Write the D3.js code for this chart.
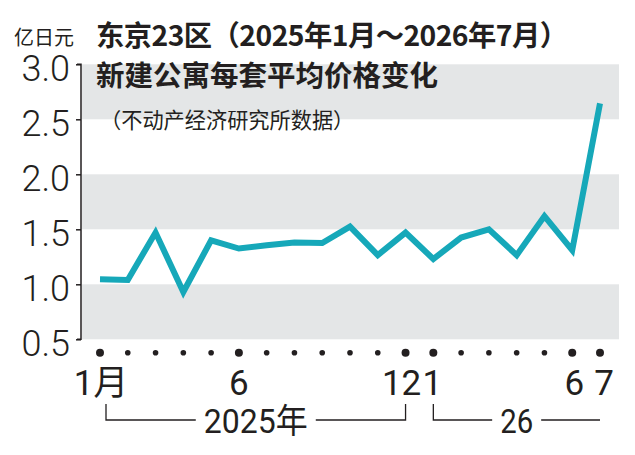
<!DOCTYPE html>
<html>
<head>
<meta charset="utf-8">
<script src="https://cdn.jsdelivr.net/npm/d3@7"></script>
<style>
  html, body { margin: 0; padding: 0; background: #fff; }
  svg { display: block; }
  .num { font-family: Roboto, 'Liberation Sans', sans-serif; font-weight: 300; fill: #231f20; }
  .cjk { font-family: 'Noto Sans CJK SC', 'Noto Sans', sans-serif; fill: #231f20; }
</style>
</head>
<body>
<div id="graph"></div>
<script>
// monthly average price, 100 million yen, Jan 2025 .. Jul 2026
const MONTHS = [1, 2, 3, 4, 5, 6, 7, 8, 9, 10, 11, 12, 1, 2, 3, 4, 5, 6, 7]
const PRICES = [1.045, 1.04, 1.47, 0.93, 1.40, 1.325, 1.355, 1.38, 1.375, 1.525,
                1.265, 1.47, 1.23, 1.425, 1.50, 1.265, 1.62, 1.31, 2.645]
const Y_TICKS = [0.5, 1.0, 1.5, 2.0, 2.5, 3.0]
const MONTH_LABELS = ['1月', '6', '12', '1', '6', '7']
const MONTH_LABEL_INDEX = [0, 5, 11, 12, 17, 18]
const YEAR_LABELS = ['2025年', '26']
const YEAR_SPANS = [[0, 11], [12, 18]]

const TITLE = '东京23区（2025年1月～2026年7月）',
      SUBTITLE = '新建公寓每套平均价格变化',
      SOURCE = '（不动产经济研究所数据）',
      UNIT = '亿日元'

const SIZE = Object.freeze({ WIDTH: 635, HEIGHT: 455 }),
      COLORS = Object.freeze({ LINE: '#16a8b9', BAND: '#e4e6e7', INK: '#231f20' })

const svg = d3.select('#graph')
  .append('svg')
  .attr('width', SIZE.WIDTH)
  .attr('height', SIZE.HEIGHT)

const xScale = d3.scaleLinear()
  .domain([0, MONTHS.length - 1])
  .range([100, 600])

const yScale = d3.scaleLinear()
  .domain([0.5, 3.0])
  .range([339.3, 64.3])

// alternating grey bands, every other half unit
const bands = Y_TICKS.slice(0, -1).filter((d, i) => i % 2 === 0)
svg.append('g')
  .selectAll('rect')
  .data(bands)
  .enter()
  .append('rect')
  .attr('x', 82)
  .attr('width', 619 - 82)
  .attr('y', d => yScale(d + 0.5))
  .attr('height', d => yScale(d) - yScale(d + 0.5))
  .attr('fill', COLORS.BAND)

// y axis
const yAxis = d3.axisLeft(yScale)
  .tickValues(Y_TICKS)
  .tickFormat(d3.format('.1f'))
  .tickSize(5)
  .tickPadding(6)

const yAxisG = svg.append('g')
  .attr('transform', 'translate(81,0)')
  .call(yAxis)
yAxisG.select('.domain')
  .attr('d', `M-4,${yScale(3.0)}H0V${yScale(0.5)}H-4`)
  .attr('stroke', COLORS.INK)
  .attr('stroke-width', 1.5)
yAxisG.selectAll('.tick line')
  .attr('stroke', COLORS.INK)
  .attr('stroke-width', 1.5)
yAxisG.selectAll('.tick text')
  .attr('class', 'num')
  .attr('dy', '0.62em')
  .attr('y', -6)
  .style('font-size', '36px')
  .attr('fill', COLORS.INK)

// titles
svg.append('text')
  .attr('class', 'cjk')
  .attr('x', 14)
  .attr('y', 45)
  .style('font-size', '20px')
  .text(UNIT)

svg.append('text')
  .attr('class', 'cjk')
  .attr('x', 96)
  .attr('y', 46)
  .style('font-size', '28.3px')
  .style('font-weight', 700)
  .attr('textLength', 472)
  .attr('lengthAdjust', 'spacing')
  .text(TITLE)

svg.append('text')
  .attr('class', 'cjk')
  .attr('x', 96)
  .attr('y', 86)
  .style('font-size', '28.5px')
  .style('font-weight', 700)
  .text(SUBTITLE)

svg.append('text')
  .attr('class', 'cjk')
  .attr('x', 100)
  .attr('y', 128)
  .style('font-size', '21.2px')
  .text(SOURCE)

// price line
const line = d3.line()
  .x((d, i) => xScale(i))
  .y(d => yScale(d))

svg.append('path')
  .datum(PRICES)
  .attr('d', line)
  .attr('fill', 'none')
  .attr('stroke', COLORS.LINE)
  .attr('stroke-width', 6)
  .attr('stroke-linejoin', 'miter')
  .attr('stroke-miterlimit', 4)

// month dots
svg.append('g')
  .selectAll('circle')
  .data(MONTHS)
  .enter()
  .append('circle')
  .attr('cx', (d, i) => xScale(i))
  .attr('cy', 352.7)
  .attr('r', (d, i) => MONTH_LABEL_INDEX.includes(i) ? 4 : 2.8)
  .attr('fill', COLORS.INK)

const labelShift = [1, 0, -4, -1, 2, 4]
svg.append('g')
  .selectAll('text')
  .data(MONTH_LABELS)
  .enter()
  .append('text')
  .attr('class', 'num')
  .attr('text-anchor', 'middle')
  .attr('x', (d, i) => xScale(MONTH_LABEL_INDEX[i]) + labelShift[i])
  .attr('y', 395)
  .style('font-size', '35px')
  .style('font-weight', 400)
  .style('font-family', "Roboto, 'Liberation Sans', 'Noto Sans CJK SC', sans-serif")
  .text(d => d)

// year brackets
YEAR_SPANS.forEach(([a, b], i) => {
  const left = xScale(a) + (i === 0 ? 6 : 0),
        right = xScale(b),
        mid = (left + right) / 2,
        width = i === 0 ? 104 : 33
  svg.append('text')
    .attr('class', 'num')
    .attr('text-anchor', 'middle')
    .attr('x', mid)
    .attr('y', 433)
    .style('font-size', '34px')
    .style('font-weight', 400)
    .style('font-family', "Roboto, 'Liberation Sans', 'Noto Sans CJK SC', sans-serif")
    .attr('textLength', width)
    .attr('lengthAdjust', 'spacingAndGlyphs')
    .text(YEAR_LABELS[i])
  const half = width / 2 + 8
  const d = i === 0
    ? `M${left},404V420H${mid - half}M${mid + half},420H${right}V404`
    : `M${left},404V420H${mid - half}M${mid + half},420H${right}`
  svg.append('path')
    .attr('d', d)
    .attr('fill', 'none')
    .attr('stroke', COLORS.INK)
    .attr('stroke-width', 1.3)
})
</script>
</body>
</html>
